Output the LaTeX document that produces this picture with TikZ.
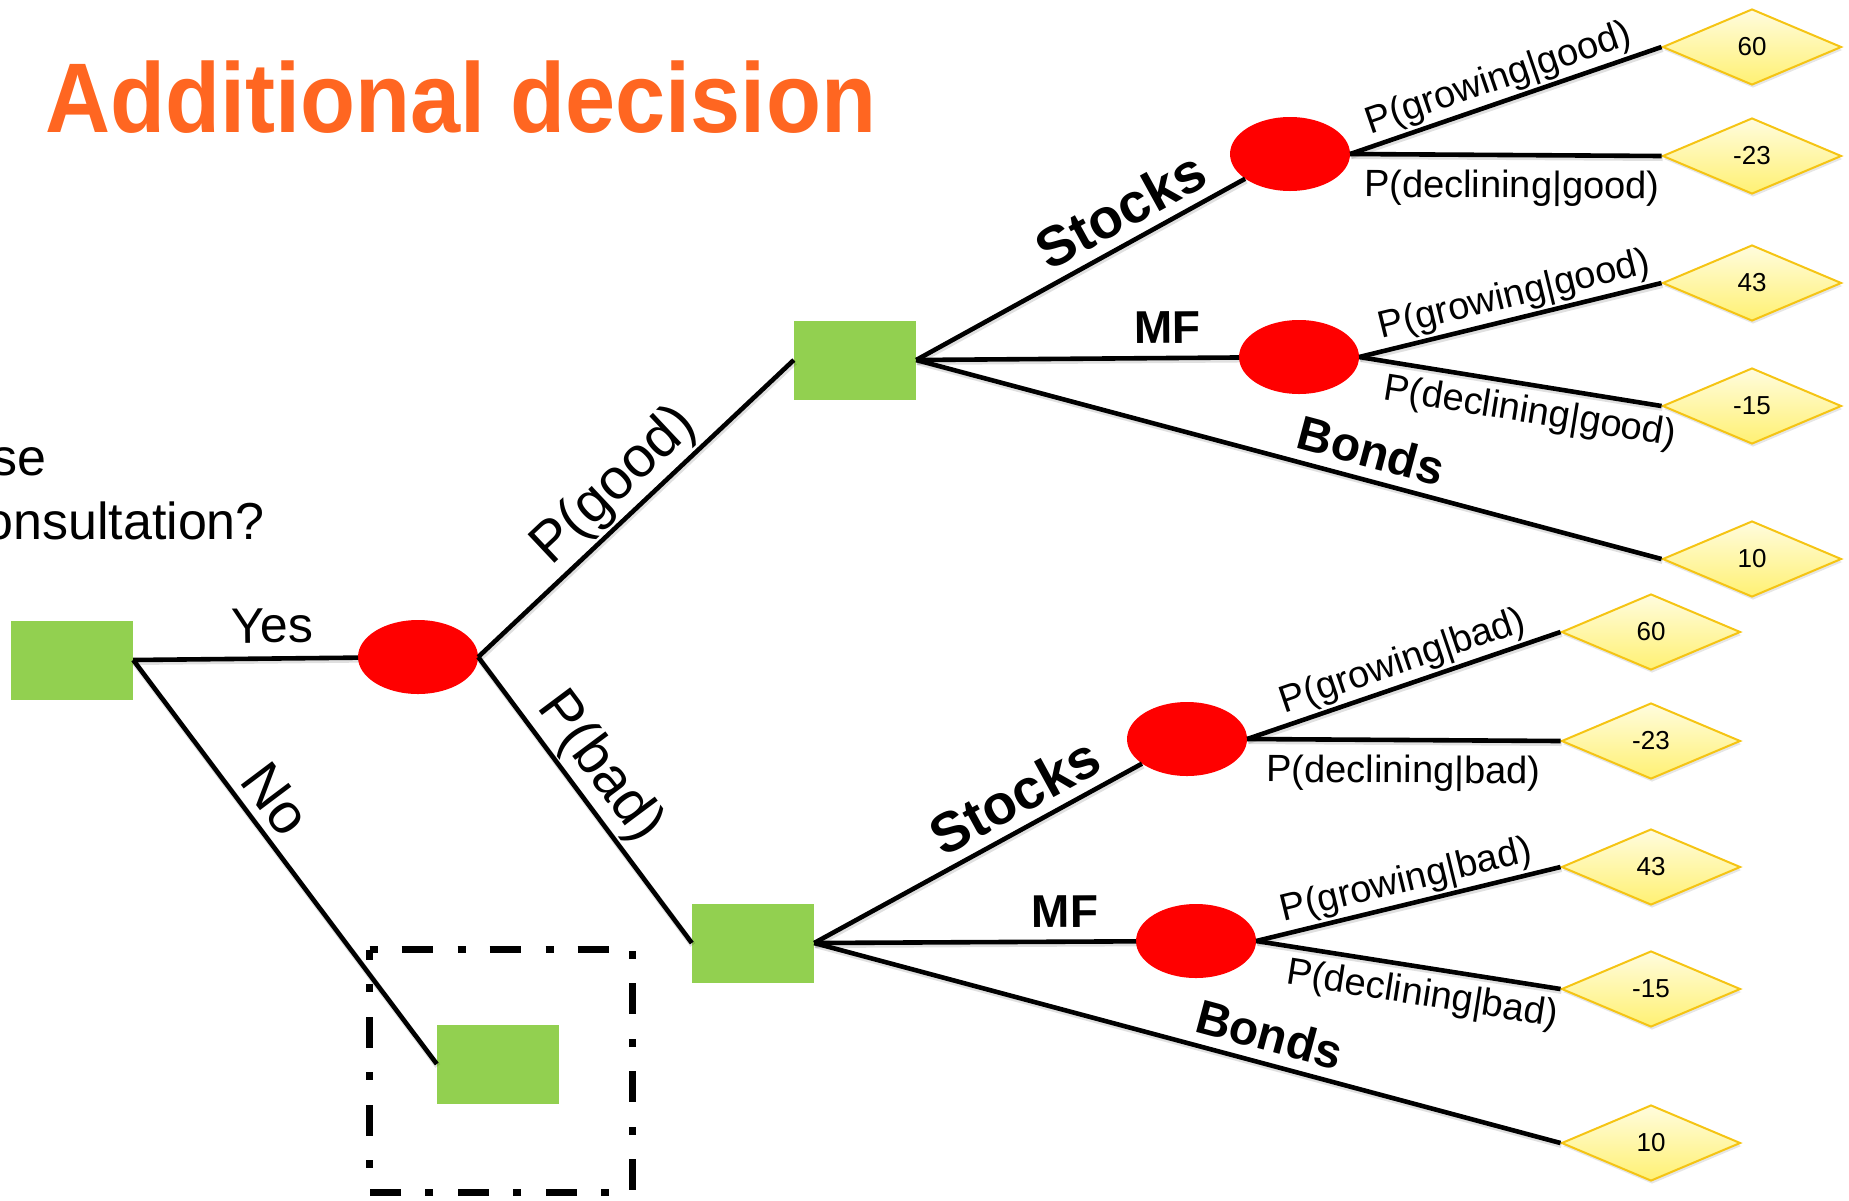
\documentclass[tikz,border=0pt]{standalone}
\usepackage{fontspec}
\setmainfont{Liberation Sans}
\newfontfamily\titlefont{Liberation Sans}[FakeStretch=0.91]
\usetikzlibrary{shapes.geometric,shadows}
\definecolor{titleorange}{RGB}{255,102,33}
\definecolor{decgreen}{RGB}{146,208,80}
\definecolor{chancered}{RGB}{255,0,0}
\definecolor{payoffedge}{RGB}{245,196,20}
\definecolor{payofftop}{RGB}{255,252,222}
\definecolor{payoffbottom}{RGB}{255,241,115}
\newcommand{\fsz}[1]{\fontsize{#1}{#1}\selectfont}

\begin{document}
\begin{tikzpicture}[x=1pt,y=-1pt,
  decision/.style={rectangle, fill=decgreen, minimum width=122pt, minimum height=79pt, inner sep=0pt},
  chance/.style={ellipse, fill=chancered, minimum width=120pt, minimum height=74pt, inner sep=0pt},
  payoff/.style={diamond, draw=payoffedge, line width=2pt, top color=payofftop, bottom color=payoffbottom,
    minimum width=179pt, minimum height=76pt, inner sep=0pt, font=\fsz{26},
    drop shadow={shadow xshift=1pt, shadow yshift=-3pt, opacity=0.2}},
  branch/.style={line width=4.6pt,
    preaction={draw=black, opacity=0.12, line width=6pt, transform canvas={xshift=1pt, yshift=-2pt}}},
  lab/.style={sloped, inner sep=2pt, font=\fsz{38}},
  big/.style={sloped, inner sep=2pt, font=\fsz{57}},
  opt/.style={sloped, inner sep=2pt, font=\bfseries\fsz{#1}},
]
\useasboundingbox (0,0) rectangle (1849,1200);
\clip (0,0) rectangle (1849,1200);

% heading and question
\node[anchor=base west, inner sep=0pt, text=titleorange, font=\titlefont\bfseries\fsz{99}] (title) at (45,132) {Additional decision};
\node[anchor=base east, inner sep=0pt, font=\fsz{52}] (q1) at (47,475) {se};
\node[anchor=base east, inner sep=0pt, font=\fsz{52}] (q2) at (265,539) {onsultation?};

% frame round the "no consultation" decision
\draw[line width=7pt, dash pattern=on 8pt off 24pt on 31pt off 25pt]
  (369.5,949.5) -- (632,949.5) -- (632,1192) -- (369.5,1192) -- cycle;

% decision and chance nodes
\node[decision] (root) at (72,660) {};
\node[chance]   (yes)  at (418,657) {};
\node[decision] (no)   at (498,1064) {};
\node[decision] (good) at (855,360) {};
\node[decision] (bad)  at (753,943) {};
\node[chance] (gs) at (1290,154) {};
\node[chance] (gm) at (1299,357) {};
\node[chance] (bs) at (1187,739) {};
\node[chance] (bm) at (1196,941) {};

% payoffs after a good report
\node[payoff] (v1) at (1752,47)  {60};
\node[payoff] (v2) at (1752,156) {-23};
\node[payoff] (v3) at (1752,283) {43};
\node[payoff] (v4) at (1752,406) {-15};
\node[payoff] (v5) at (1752,559) {10};

% payoffs after a bad report
\node[payoff] (w1) at (1651,632)  {60};
\node[payoff] (w2) at (1651,741)  {-23};
\node[payoff] (w3) at (1651,867)  {43};
\node[payoff] (w4) at (1651,989)  {-15};
\node[payoff] (w5) at (1651,1143) {10};

% first stage
\draw[branch] (root.east) -- node[big, font=\fsz{50}, pos=0.62, above=11pt]{Yes} (yes);
\draw[branch] (root.east) -- node[big, pos=0.39, above=6pt]{No} (no.west);
\draw[branch] (yes.east) -- node[big, pos=0.5, above]{P(good)} (good.west);
\draw[branch] (yes.east) -- node[big, pos=0.45, above]{P(bad)} (bad.west);

% investment choice after a good report
\draw[branch] (good.east) -- node[opt=56, pos=0.67, above=8pt]{Stocks} (gs);
\draw[branch] (good.east) -- node[opt=46, pos=0.78, above=10pt]{MF} (gm);
\draw[branch] (good.east) -- node[opt=48, pos=0.60, above=8pt]{Bonds} (v5.west);
\draw[branch] (gs.east) -- node[lab, pos=0.50, above]{P(growing|good)} (v1.west);
\draw[branch] (gs.east) -- node[lab, pos=0.52, below=11pt]{P(declining|good)} (v2.west);
\draw[branch] (gm.east) -- node[lab, pos=0.53, above]{P(growing|good)} (v3.west);
\draw[branch] (gm.east) -- node[lab, pos=0.58, below=6pt]{P(declining|good)} (v4.west);

% investment choice after a bad report
\draw[branch] (bad.east) -- node[opt=56, pos=0.66, above=8pt]{Stocks} (bs);
\draw[branch] (bad.east) -- node[opt=46, pos=0.78, above=10pt]{MF} (bm);
\draw[branch] (bad.east) -- node[opt=48, pos=0.60, above=8pt]{Bonds} (w5.west);
\draw[branch] (bs.east) -- node[lab, pos=0.52, above]{P(growing|bad)} (w1.west);
\draw[branch] (bs.east) -- node[lab, pos=0.50, below=11pt]{P(declining|bad)} (w2.west);
\draw[branch] (bm.east) -- node[lab, pos=0.51, above]{P(growing|bad)} (w3.west);
\draw[branch] (bm.east) -- node[lab, pos=0.56, below=6pt]{P(declining|bad)} (w4.west);
\end{tikzpicture}
\end{document}
